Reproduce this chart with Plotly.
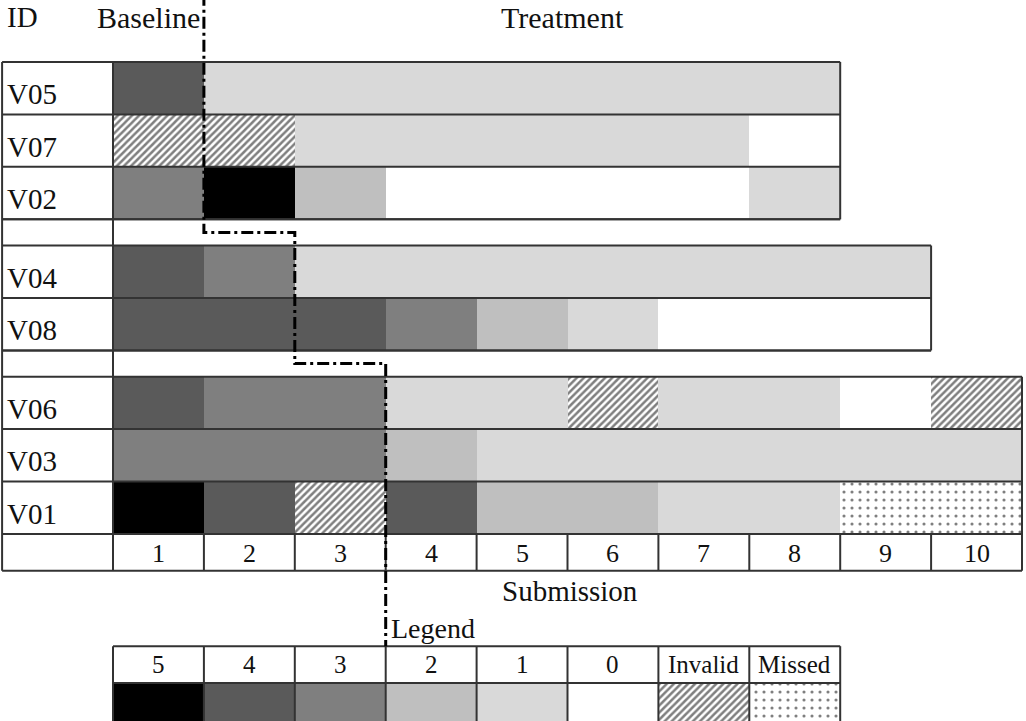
import plotly.graph_objects as go

# ---------------- data ----------------
submissions = list(range(1, 11))
score_levels = ["5", "4", "3", "2", "1", "0", "Invalid", "Missed"]
level_colors = ["#000000", "#5a5a5a", "#7f7f7f", "#bfbfbf", "#d9d9d9",
                "#ffffff", "#ffffff", "#ffffff"]
level_patterns = ["", "", "", "", "", "", "/", "."]

group1_ids = ["V05", "V07", "V02"]
group1_scores = [
    ["4", "1", "1", "1", "1", "1", "1", "1"],
    ["Invalid", "Invalid", "1", "1", "1", "1", "1", "0"],
    ["3", "5", "2", "0", "0", "0", "0", "1"],
]
group2_ids = ["V04", "V08"]
group2_scores = [
    ["4", "3", "1", "1", "1", "1", "1", "1", "1"],
    ["4", "4", "4", "3", "2", "1", "0", "0", "0"],
]
group3_ids = ["V06", "V03", "V01"]
group3_scores = [
    ["4", "3", "3", "1", "1", "Invalid", "1", "1", "0", "Invalid"],
    ["3", "3", "3", "2", "1", "1", "1", "1", "1", "1"],
    ["5", "4", "Invalid", "4", "2", "2", "1", "1", "Missed", "Missed"],
]
baseline_lengths = [1, 2, 3]   # baseline submissions per group

groups = [(group1_ids, group1_scores), (group2_ids, group2_scores),
          (group3_ids, group3_scores)]

# ---------------- layout constants ----------------
ROW_H = 1.0
GAP = 0.5
NUM_ROW_H = 0.7
ID_W = 1.22
LEG_TOP = 11.14
LEG_HDR_H = 0.7
LEG_SW_H = 0.75
FONT = "Liberation Serif"
LINE_COL = "#333333"
LW = 2

# ---------------- row geometry ----------------
rows = []          # (id, scores, top)
group_info = []    # (top, bottom, ncols)
y = 0.0
for gi, (ids, scores) in enumerate(groups):
    gtop = y
    for rid, sc in zip(ids, scores):
        rows.append((rid, sc, y))
        y += ROW_H
    group_info.append((gtop, y, len(scores[0])))
    if gi < len(groups) - 1:
        y += GAP
num_top = y
num_bot = y + NUM_ROW_H


def make_marker(col, pat):
    marker = dict(color=col, line=dict(width=0))
    if pat == "/":
        marker["pattern"] = dict(shape="/", fgcolor="#000000", bgcolor="#ffffff",
                                 size=5, solidity=0.5)
    elif pat == ".":
        marker["pattern"] = dict(shape=".", fgcolor="#000000", bgcolor="#ffffff",
                                 size=8, solidity=0.12)
    return marker


# ---------------- bars (runs of equal level) ----------------
runs = {lv: ([], [], []) for lv in score_levels}
for rid, sc, top in rows:
    start = 0
    for i in range(1, len(sc) + 1):
        if i == len(sc) or sc[i] != sc[start]:
            yc, bs, ln = runs[sc[start]]
            yc.append(top + ROW_H / 2)
            bs.append(start)
            ln.append(i - start)
            start = i

fig = go.Figure()
for lv, col, pat in zip(score_levels, level_colors, level_patterns):
    yc, bs, ln = runs[lv]
    if yc:
        fig.add_trace(go.Bar(orientation="h", y=yc, x=ln, base=bs,
                             width=[ROW_H] * len(yc), marker=make_marker(col, pat),
                             showlegend=False, hoverinfo="skip"))

# legend swatches
leg_sw_c = LEG_TOP + LEG_HDR_H + LEG_SW_H / 2
for i, (lv, col, pat) in enumerate(zip(score_levels, level_colors, level_patterns)):
    fig.add_trace(go.Bar(orientation="h", y=[leg_sw_c], x=[1], base=[i],
                         width=[LEG_SW_H], marker=make_marker(col, pat),
                         showlegend=False, hoverinfo="skip"))

# ---------------- grid lines ----------------
shapes = []


def hline(x0, x1, yy):
    shapes.append(dict(type="line", x0=x0, x1=x1, y0=yy, y1=yy,
                       line=dict(color=LINE_COL, width=LW)))


def vline(xx, y0, y1):
    shapes.append(dict(type="line", x0=xx, x1=xx, y0=y0, y1=y1,
                       line=dict(color=LINE_COL, width=LW)))


for gtop, gbot, ncols in group_info:
    hline(-ID_W, ncols, gtop)
    hline(-ID_W, ncols, gbot)
    vline(ncols, gtop, gbot)
for rid, sc, top in rows:
    hline(-ID_W, len(sc), top + ROW_H)
ncol_max = len(submissions)
hline(-ID_W, ncol_max, num_bot)
vline(-ID_W, 0, num_bot)
vline(0, 0, num_bot)
for c in submissions:
    vline(c, num_top, num_bot)

# legend table lines
nleg = len(score_levels)
leg_bot = LEG_TOP + LEG_HDR_H + LEG_SW_H
hline(0, nleg, LEG_TOP)
hline(0, nleg, LEG_TOP + LEG_HDR_H)
hline(0, nleg, leg_bot)
for i in range(nleg + 1):
    vline(i, LEG_TOP, leg_bot)

# dash-dot phase-change line
path_pts = [(baseline_lengths[0], -1.3)]
for gi in range(len(group_info) - 1):
    ymid = (group_info[gi][1] + group_info[gi + 1][0]) / 2
    path_pts.append((baseline_lengths[gi], ymid))
    path_pts.append((baseline_lengths[gi + 1], ymid))
path_pts.append((baseline_lengths[-1], LEG_TOP))
path = "M " + " L ".join(f"{px},{py}" for px, py in path_pts)
shapes.append(dict(type="path", path=path, xref="x", yref="y",
                   line=dict(color="#000000", width=3, dash="12px,4px,3px,4px")))

# ---------------- text ----------------
ann = []
TXT = "#111111"
for rid, sc, top in rows:
    ann.append(dict(x=-ID_W + 0.03, y=top + ROW_H / 2, text=rid, showarrow=False,
                    xanchor="left", yanchor="middle", yshift=-6,
                    font=dict(family=FONT, size=29, color=TXT)))
for c in submissions:
    ann.append(dict(x=c - 0.5, y=(num_top + num_bot) / 2, text=str(c),
                    showarrow=False, xanchor="center", yanchor="middle", yshift=-1,
                    font=dict(family=FONT, size=26, color=TXT)))
for i, lv in enumerate(score_levels):
    ann.append(dict(x=i + 0.5, y=LEG_TOP + LEG_HDR_H / 2, text=lv,
                    showarrow=False, xanchor="center", yanchor="middle",
                    font=dict(family=FONT, size=25, color=TXT)))
ann.append(dict(x=-ID_W + 0.03, y=-0.85, text="ID", showarrow=False,
                xanchor="left", yanchor="middle",
                font=dict(family=FONT, size=29, color=TXT)))
ann.append(dict(x=baseline_lengths[0] - 0.02, y=-0.85, text="Baseline",
                showarrow=False, xanchor="right", yanchor="middle",
                font=dict(family=FONT, size=30, color=TXT)))
ann.append(dict(x=4.94, y=-0.85, text="Treatment", showarrow=False,
                xanchor="center", yanchor="middle",
                font=dict(family=FONT, size=30, color=TXT)))
ann.append(dict(x=5.03, y=10.09, text="Submission", showarrow=False,
                xanchor="center", yanchor="middle",
                font=dict(family=FONT, size=29, color=TXT)))
ann.append(dict(x=baseline_lengths[-1] + 0.04, y=10.8, text="Legend",
                showarrow=False, xanchor="left", yanchor="middle",
                font=dict(family=FONT, size=28, color=TXT)))

fig.update_layout(
    width=1026, height=721,
    margin=dict(l=0, r=0, t=0, b=0),
    paper_bgcolor="white", plot_bgcolor="white",
    barmode="overlay", bargap=0,
    xaxis=dict(range=[-113 / 90.9, (1026 - 113) / 90.9], visible=False,
               fixedrange=True),
    yaxis=dict(range=[12.567, -1.182], visible=False, fixedrange=True),
    shapes=shapes, annotations=ann,
)

fig.write_html("out.html", config={"displayModeBar": False},
               post_script="document.body.style.margin='0';")
